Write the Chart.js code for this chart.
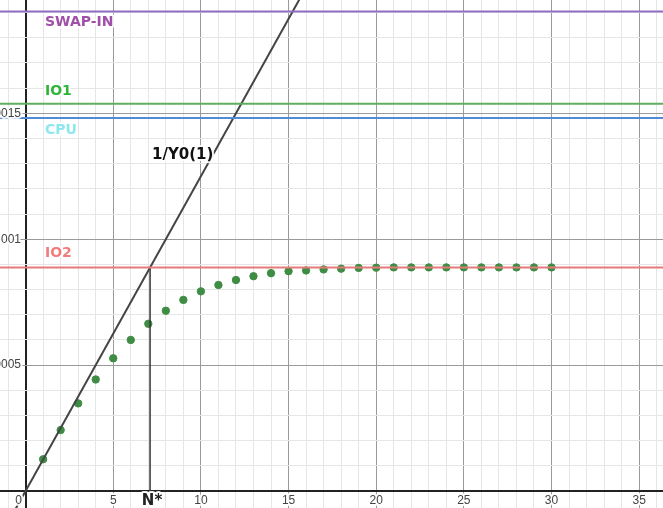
<!DOCTYPE html>
<html>
<head>
<meta charset="utf-8">
<script src="https://cdn.jsdelivr.net/npm/chart.js@4"></script>
<style>
  body { margin: 0; background: #fff; }
  canvas { display: block; }
</style>
</head>
<body>
<canvas id="chart" width="663" height="508"></canvas>
<script>
// population N and the throughput
const nValues = [1, 2, 3, 4, 5, 6, 7, 8, 9, 10, 11, 12, 13, 14, 15,
  16, 17, 18, 19, 20, 21, 22, 23, 24, 25, 26, 27, 28, 29, 30];
const throughput = [0.000126, 0.000242, 0.000348, 0.000443, 0.000527, 0.000600, 0.000664,
  0.000716, 0.000759, 0.000793, 0.000818, 0.000838, 0.000853, 0.000865, 0.000873,
  0.000876, 0.000880, 0.000883, 0.000886, 0.000887, 0.000888, 0.000888, 0.000888,
  0.000888, 0.000888, 0.000888, 0.000888, 0.000888, 0.000888, 0.000888];

// horizontal bounds (1/D of each device)
const boundNames = ["SWAP-IN", "IO1", "CPU", "IO2"];
const boundValues = [0.001904, 0.001538, 0.001481, 0.000888];
const boundLineColors = ["#8e6fc4", "#5fae5f", "#4f8bd6", "#e57b7b"];
const boundLabelColors = ["#a050a8", "#2fb43a", "#8ee6ee", "#f27c7c"];

const slope = 0.000125;      // 1/Y0(1) line
const nStar = 7.1;

const xTickLabels = [0, 5, 10, 15, 20, 25, 30, 35];
const yTickLabels = ["0.0005", "0.001", "0.0015"];

const xMin = -1.46, xMax = 36.36;
const yMin = -0.0000675, yMax = 0.00195;

let datasets = [];
boundValues.forEach((v, i) => {
  datasets.push({
    label: boundNames[i],
    data: [{ x: xMin, y: v }, { x: xMax, y: v }],
    showLine: true,
    borderColor: boundLineColors[i],
    borderWidth: 2,
    pointRadius: 0,
  });
});
datasets.push({
  label: "1/Y0(1)",
  data: [{ x: -2, y: -2 * slope }, { x: 17, y: 17 * slope }],
  showLine: true,
  borderColor: "#444",
  borderWidth: 2,
  pointRadius: 0,
});
datasets.push({
  label: "N*",
  data: [{ x: nStar, y: 0 }, { x: nStar, y: boundValues[3] }],
  showLine: true,
  borderColor: "#333",
  borderWidth: 1.5,
  pointRadius: 0,
});
datasets.push({
  label: "X(N)",
  data: nValues.map((n, i) => ({ x: n, y: throughput[i] })),
  showLine: false,
  backgroundColor: "#3f8d45",
  borderColor: "#3f8d45",
  pointRadius: 3.7,
});

function halo(ctx, text, x, y, color) {
  ctx.strokeStyle = "rgba(255,255,255,0.9)";
  ctx.lineWidth = 4;
  ctx.lineJoin = "round";
  ctx.strokeText(text, x, y);
  ctx.fillStyle = color;
  ctx.fillText(text, x, y);
}

const labelsPlugin = {
  id: "labels",
  afterDraw(chart) {
    const ctx = chart.ctx;
    const xs = chart.scales.x, ys = chart.scales.y;
    const x0 = xs.getPixelForValue(0), y0 = ys.getPixelForValue(0);
    ctx.save();
    // tick labels
    ctx.font = "12px 'Liberation Sans', Arial, sans-serif";
    ctx.textBaseline = "top";
    ctx.textAlign = "center";
    xTickLabels.forEach((t) => {
      let px = xs.getPixelForValue(t);
      if (t === 0) px -= 7;
      halo(ctx, String(t), px, y0 + 4, "#444");
    });
    ctx.textAlign = "right";
    ctx.textBaseline = "middle";
    yTickLabels.forEach((t) => {
      halo(ctx, t, x0 - 4.6, ys.getPixelForValue(parseFloat(t)), "#444");
    });
    // bound labels
    ctx.font = "bold 14px 'DejaVu Sans', sans-serif";
    ctx.textAlign = "left";
    const labelY = [22, 91, 130, 253];
    boundNames.forEach((name, i) => {
      halo(ctx, name, 45, labelY[i], boundLabelColors[i]);
    });
    ctx.font = "bold 15px 'DejaVu Sans', sans-serif";
    halo(ctx, "1/Y0(1)", 152, 155, "#111");
    ctx.textAlign = "center";
    ctx.textBaseline = "top";
    halo(ctx, "N*", xs.getPixelForValue(nStar) + 2, y0 + 3, "#222");
    ctx.restore();
  },
};

function gridColor(ctx, step) {
  const v = ctx.tick ? ctx.tick.value : null;
  if (v === null) return "rgba(0,0,0,0)";
  const k = Math.round(v / step);
  if (Math.abs(v / step - k) > 1e-6) return "rgba(0,0,0,0)";
  if (k === 0) return "#222";
  if (k % 5 === 0) return "#9a9a9a";
  return "#e6e6e6";
}
function gridWidth(ctx, step) {
  const v = ctx.tick ? ctx.tick.value : 1;
  return Math.round(v / step) === 0 ? 2 : 1;
}

let config = {
  type: "scatter",
  data: { datasets: datasets },
  options: {
    responsive: false,
    animation: false,
    events: [],
    layout: { padding: 0, autoPadding: false },
    plugins: {
      legend: { display: false },
      tooltip: { enabled: false },
    },
    scales: {
      x: {
        type: "linear",
        min: xMin,
        max: xMax,
        afterFit: (s) => { s.height = 0; },
        border: { display: false },
        ticks: { display: false, stepSize: 1, includeBounds: false },
        grid: {
          drawTicks: false,
          color: (c) => gridColor(c, 1),
          lineWidth: (c) => gridWidth(c, 1),
        },
      },
      y: {
        type: "linear",
        min: yMin,
        max: yMax,
        afterFit: (s) => { s.width = 0; },
        border: { display: false },
        ticks: { display: false, stepSize: 0.0001, includeBounds: false },
        grid: {
          drawTicks: false,
          color: (c) => gridColor(c, 0.0001),
          lineWidth: (c) => gridWidth(c, 0.0001),
        },
      },
    },
  },
  plugins: [labelsPlugin],
};

let mainChart = new Chart(document.getElementById("chart"), config);
</script>
</body>
</html>
